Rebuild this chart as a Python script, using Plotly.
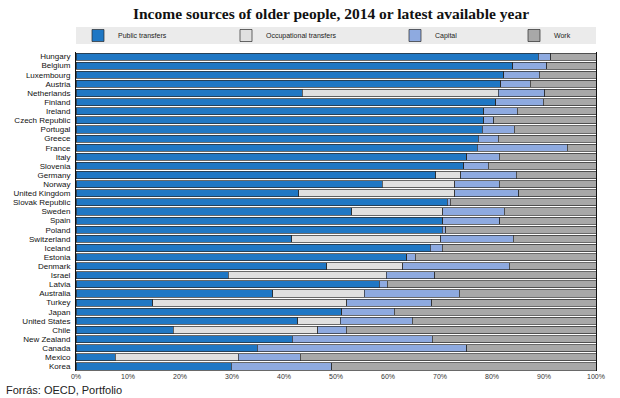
import plotly.graph_objects as go

countries = ["Hungary", "Belgium", "Luxembourg", "Austria", "Netherlands", "Finland", "Ireland",
             "Czech Republic", "Portugal", "Greece", "France", "Italy", "Slovenia", "Germany",
             "Norway", "United Kingdom", "Slovak Republic", "Sweden", "Spain", "Poland",
             "Switzerland", "Iceland", "Estonia", "Denmark", "Israel", "Latvia", "Australia",
             "Turkey", "Japan", "United States", "Chile", "New Zealand", "Canada", "Mexico", "Korea"]

public_transfers = [88.9, 84.0, 82.3, 81.7, 43.5, 80.7, 78.4, 78.4, 78.1, 77.4, 77.2, 75.1, 74.6, 69.2,
                    58.9, 42.8, 71.4, 53.0, 70.5, 70.4, 41.5, 68.1, 63.6, 48.2, 29.3, 58.3, 37.8,
                    14.8, 51.1, 42.6, 18.7, 41.6, 34.9, 7.5, 29.9]
occupational_transfers = [0, 0, 0, 0, 37.7, 0, 0, 0, 0, 0, 0, 0, 0, 4.8,
                          13.9, 30.0, 0, 17.5, 0, 0, 28.6, 0, 0, 14.6, 30.4, 0, 17.6,
                          37.3, 0, 8.2, 27.8, 0, 0, 23.7, 0]
capital = [2.4, 6.5, 6.8, 5.7, 8.9, 9.2, 6.5, 1.9, 6.2, 3.8, 17.3, 6.3, 4.7, 10.7,
           8.6, 12.3, 0.6, 11.9, 11.0, 0.7, 14.0, 2.3, 1.6, 20.5, 9.3, 1.6, 18.3,
           16.3, 10.1, 13.9, 5.5, 26.9, 40.2, 11.9, 19.3]
work = [8.7, 9.5, 10.9, 12.6, 9.9, 10.1, 15.1, 19.7, 15.7, 18.8, 5.5, 18.6, 20.7, 15.3,
        18.6, 14.9, 28.0, 17.6, 18.5, 28.9, 15.9, 29.6, 34.8, 16.7, 31.0, 40.1, 26.3,
        31.6, 38.8, 35.3, 48.0, 31.5, 24.9, 56.9, 50.8]

series_names = ["Public transfers", "Occupational transfers", "Capital", "Work"]
series_values = [public_transfers, occupational_transfers, capital, work]
series_colors = ["#1f77c4", "#e0e0e0", "#8eaae0", "#a8a8a8"]

W, H = 620, 398
L, R, T, B = 76, 24, 52, 27
ph = H - T - B

legend_ids = ["legend", "legend2", "legend3", "legend4"]
legend_x = [78, 226, 395, 514]

fig = go.Figure()
for name, vals, col, lid in zip(series_names, series_values, series_colors, legend_ids):
    fig.add_trace(go.Bar(
        y=countries, x=vals, name=name, orientation="h", legend=lid, showlegend=True,
        marker=dict(color=col, line=dict(color="#2a2a2a", width=0.7)),
    ))

legend_font = dict(family="Liberation Sans, Arial", size=7, color="#222")
legends = {}
for lid, lx in zip(legend_ids, legend_x):
    legends[lid] = dict(orientation="h", xref="container", yref="container",
                        x=lx / W, xanchor="left", y=1 - 35.5 / H, yanchor="middle",
                        bgcolor="rgba(0,0,0,0)", font=legend_font)

fig.update_layout(
    width=W, height=H, showlegend=True,
    barmode="stack", bargap=0.22,
    margin=dict(l=L, r=R, t=T, b=B, autoexpand=False),
    paper_bgcolor="white", plot_bgcolor="white",
    font=dict(family="Liberation Sans, Arial", size=8, color="#222"),
    title=dict(text="<b>Income sources of older people, 2014 or latest available year</b>",
               x=331 / W, xanchor="center", y=1 - 14 / H, yanchor="middle",
               font=dict(family="Liberation Serif, DejaVu Serif, serif", size=15.5, color="#111")),
    **legends,
    xaxis=dict(range=[0, 100], dtick=10, ticksuffix="%", showgrid=False, zeroline=False,
               showline=False, ticks="", tickfont=dict(size=7, family="Liberation Sans, Arial", color="#333")),
    yaxis=dict(autorange="reversed", showgrid=False, showline=True, mirror=True,
               linecolor="#111", linewidth=1, ticks="", ticklabelstandoff=3,
               tickmode="array", tickvals=countries, ticktext=countries,
               tickfont=dict(size=8, family="Liberation Sans, Arial", color="#111")),
    shapes=[dict(type="rect", xref="paper", yref="paper", x0=0, x1=1,
                 y0=1 + (T - 44) / ph, y1=1 + (T - 27) / ph,
                 fillcolor="#ebebeb", line=dict(width=0), layer="below")],
    annotations=[dict(text="Forrás: OECD, Portfolio", xref="paper", yref="paper",
                      x=(4 - L) / (W - L - R), xanchor="left",
                      y=-(390 - (H - B)) / ph, yanchor="middle", showarrow=False,
                      font=dict(family="Liberation Sans, Arial", size=11, color="#222"))],
)

fig.write_html("out.html", config={"displayModeBar": False},
               post_script="document.body.style.margin='0';")
